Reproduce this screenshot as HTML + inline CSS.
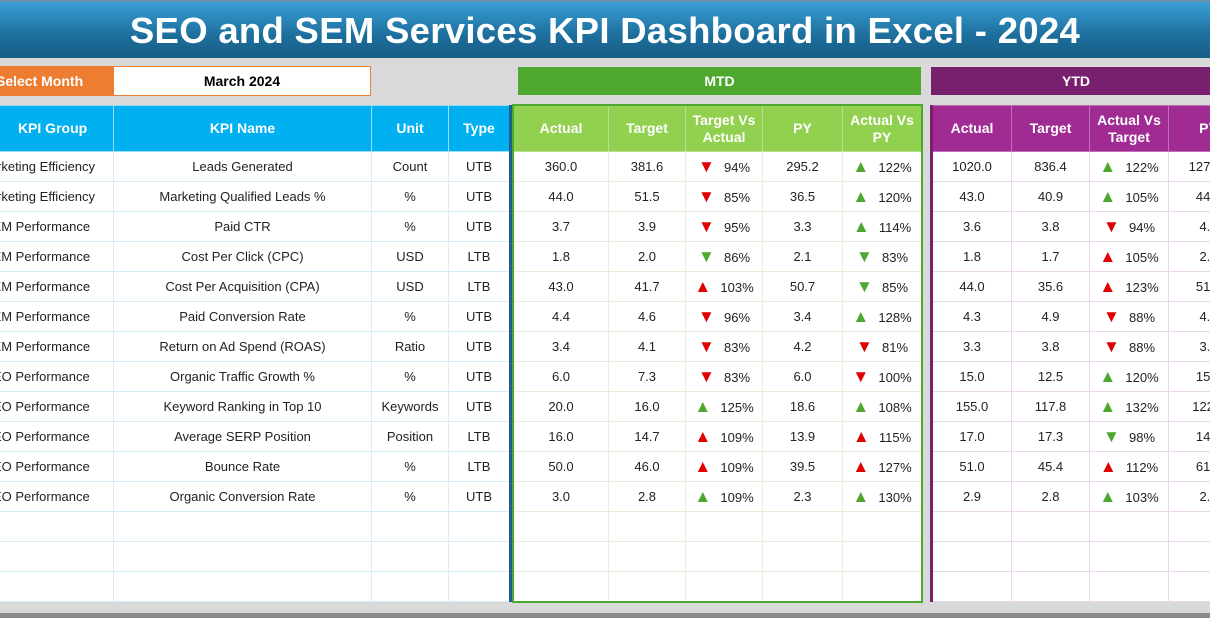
<!DOCTYPE html><html><head><meta charset="utf-8"><style>
body{margin:0;width:1210px;height:618px;overflow:hidden;background:#d9d9d9;font-family:"Liberation Sans",sans-serif;position:relative}
.title{position:absolute;left:0;top:2px;width:1210px;height:56px;background:linear-gradient(#3a9fd4,#1d6e9c 60%,#185d86);color:#fff;font-weight:bold;font-size:36.5px;text-align:center;line-height:58px;letter-spacing:0.3px}
.topline{position:absolute;left:0;top:0;width:1210px;height:3px;background:#6a8fa8}
.sel{position:absolute;left:0;top:66px;width:113px;height:30px;background:#ed7d31;color:#fff;font-weight:bold;font-size:14px;line-height:30px;text-indent:-4px}
.mon{position:absolute;left:113px;top:66px;width:256px;height:28px;background:#fff;border:1px solid #ed7d31;font-weight:bold;font-size:14px;text-align:center;line-height:29px}
.bar{position:absolute;top:67px;height:28px;color:#fff;font-weight:bold;font-size:14px;text-align:center;line-height:28px}
table{position:absolute;top:105px;border-collapse:collapse;table-layout:fixed;background:#fff;font-size:13px;color:#222}
td,th{height:29px;padding:0;text-align:center;white-space:nowrap;overflow:hidden}
th{height:45px;color:#fff;font-size:14px;font-weight:bold;line-height:17px}
#L td{border:1px solid #d6ecf6}#L th{background:#00b0f0;border:1px solid #9ddcf5}
#M td{border:1px solid #e4efdc}#M th{background:#92d050;border:1px solid #b8e090}
#Y td{border:1px solid #ead6ea}#Y th{background:#a02b93;border:1px solid #c070b8}
.u{color:#4ea72e}.d{color:#e00000}
.a{display:inline-block;width:16px;font-size:17px;margin-right:10px}
</style></head><body>
<div class="topline"></div>
<div class="title">SEO and SEM Services KPI Dashboard in Excel - 2024</div>
<div class="sel">Select Month</div><div class="mon">March 2024</div>
<div class="bar" style="left:518px;width:403px;background:#4ea72e">MTD</div>
<div class="bar" style="left:931px;width:290px;background:#78206e">YTD</div>
<table id="L" style="left:-40px;width:550px;border-right:3px solid #1f5f8b">
<colgroup><col style="width:153px"><col style="width:258px"><col style="width:77px"><col style="width:62px"></colgroup>
<tr><th>&nbsp;&nbsp;&nbsp;&nbsp;&nbsp;&nbsp;&nbsp;&nbsp;KPI Group</th><th>KPI Name</th><th>Unit</th><th>Type</th></tr>
<tr><td>Marketing Efficiency</td><td>Leads Generated</td><td>Count</td><td>UTB</td></tr>
<tr><td>Marketing Efficiency</td><td>Marketing Qualified Leads %</td><td>%</td><td>UTB</td></tr>
<tr><td>SEM Performance</td><td>Paid CTR</td><td>%</td><td>UTB</td></tr>
<tr><td>SEM Performance</td><td>Cost Per Click (CPC)</td><td>USD</td><td>LTB</td></tr>
<tr><td>SEM Performance</td><td>Cost Per Acquisition (CPA)</td><td>USD</td><td>LTB</td></tr>
<tr><td>SEM Performance</td><td>Paid Conversion Rate</td><td>%</td><td>UTB</td></tr>
<tr><td>SEM Performance</td><td>Return on Ad Spend (ROAS)</td><td>Ratio</td><td>UTB</td></tr>
<tr><td>SEO Performance</td><td>Organic Traffic Growth %</td><td>%</td><td>UTB</td></tr>
<tr><td>SEO Performance</td><td>Keyword Ranking in Top 10</td><td>Keywords</td><td>UTB</td></tr>
<tr><td>SEO Performance</td><td>Average SERP Position</td><td>Position</td><td>LTB</td></tr>
<tr><td>SEO Performance</td><td>Bounce Rate</td><td>%</td><td>LTB</td></tr>
<tr><td>SEO Performance</td><td>Organic Conversion Rate</td><td>%</td><td>UTB</td></tr>
<tr><td></td><td></td><td></td><td></td></tr><tr><td></td><td></td><td></td><td></td></tr><tr><td></td><td></td><td></td><td></td></tr>
</table>
<table id="M" style="left:513px;width:408px;outline:2px solid #4ea72e;outline-offset:-1px">
<colgroup><col style="width:95px"><col style="width:77px"><col style="width:77px"><col style="width:80px"><col style="width:79px"></colgroup>
<tr><th>Actual</th><th>Target</th><th>Target Vs<br>Actual</th><th>PY</th><th>Actual Vs<br>PY</th></tr>
<tr><td>360.0</td><td>381.6</td><td><span class="a d">▼</span>94%</td><td>295.2</td><td><span class="a u">▲</span>122%</td></tr>
<tr><td>44.0</td><td>51.5</td><td><span class="a d">▼</span>85%</td><td>36.5</td><td><span class="a u">▲</span>120%</td></tr>
<tr><td>3.7</td><td>3.9</td><td><span class="a d">▼</span>95%</td><td>3.3</td><td><span class="a u">▲</span>114%</td></tr>
<tr><td>1.8</td><td>2.0</td><td><span class="a u">▼</span>86%</td><td>2.1</td><td><span class="a u">▼</span>83%</td></tr>
<tr><td>43.0</td><td>41.7</td><td><span class="a d">▲</span>103%</td><td>50.7</td><td><span class="a u">▼</span>85%</td></tr>
<tr><td>4.4</td><td>4.6</td><td><span class="a d">▼</span>96%</td><td>3.4</td><td><span class="a u">▲</span>128%</td></tr>
<tr><td>3.4</td><td>4.1</td><td><span class="a d">▼</span>83%</td><td>4.2</td><td><span class="a d">▼</span>81%</td></tr>
<tr><td>6.0</td><td>7.3</td><td><span class="a d">▼</span>83%</td><td>6.0</td><td><span class="a d">▼</span>100%</td></tr>
<tr><td>20.0</td><td>16.0</td><td><span class="a u">▲</span>125%</td><td>18.6</td><td><span class="a u">▲</span>108%</td></tr>
<tr><td>16.0</td><td>14.7</td><td><span class="a d">▲</span>109%</td><td>13.9</td><td><span class="a d">▲</span>115%</td></tr>
<tr><td>50.0</td><td>46.0</td><td><span class="a d">▲</span>109%</td><td>39.5</td><td><span class="a d">▲</span>127%</td></tr>
<tr><td>3.0</td><td>2.8</td><td><span class="a u">▲</span>109%</td><td>2.3</td><td><span class="a u">▲</span>130%</td></tr>
<tr><td></td><td></td><td></td><td></td><td></td></tr><tr><td></td><td></td><td></td><td></td><td></td></tr><tr><td></td><td></td><td></td><td></td><td></td></tr>
</table>
<table id="Y" style="left:930px;width:317px;border-left:3px solid #78206e">
<colgroup><col style="width:80px"><col style="width:78px"><col style="width:79px"><col style="width:80px"></colgroup>
<tr><th>Actual</th><th>Target</th><th>Actual Vs<br>Target</th><th>PY</th></tr>
<tr><td>1020.0</td><td>836.4</td><td><span class="a u">▲</span>122%</td><td>1275.0</td></tr>
<tr><td>43.0</td><td>40.9</td><td><span class="a u">▲</span>105%</td><td>44.0</td></tr>
<tr><td>3.6</td><td>3.8</td><td><span class="a d">▼</span>94%</td><td>4.1</td></tr>
<tr><td>1.8</td><td>1.7</td><td><span class="a d">▲</span>105%</td><td>2.0</td></tr>
<tr><td>44.0</td><td>35.6</td><td><span class="a d">▲</span>123%</td><td>51.0</td></tr>
<tr><td>4.3</td><td>4.9</td><td><span class="a d">▼</span>88%</td><td>4.1</td></tr>
<tr><td>3.3</td><td>3.8</td><td><span class="a d">▼</span>88%</td><td>3.1</td></tr>
<tr><td>15.0</td><td>12.5</td><td><span class="a u">▲</span>120%</td><td>15.0</td></tr>
<tr><td>155.0</td><td>117.8</td><td><span class="a u">▲</span>132%</td><td>122.0</td></tr>
<tr><td>17.0</td><td>17.3</td><td><span class="a u">▼</span>98%</td><td>14.0</td></tr>
<tr><td>51.0</td><td>45.4</td><td><span class="a d">▲</span>112%</td><td>61.0</td></tr>
<tr><td>2.9</td><td>2.8</td><td><span class="a u">▲</span>103%</td><td>2.7</td></tr>
<tr><td></td><td></td><td></td><td></td></tr><tr><td></td><td></td><td></td><td></td></tr><tr><td></td><td></td><td></td><td></td></tr>
</table>
<div style="position:absolute;left:0;top:613px;width:1210px;height:5px;background:#8a8a8a"></div>
</body></html>
